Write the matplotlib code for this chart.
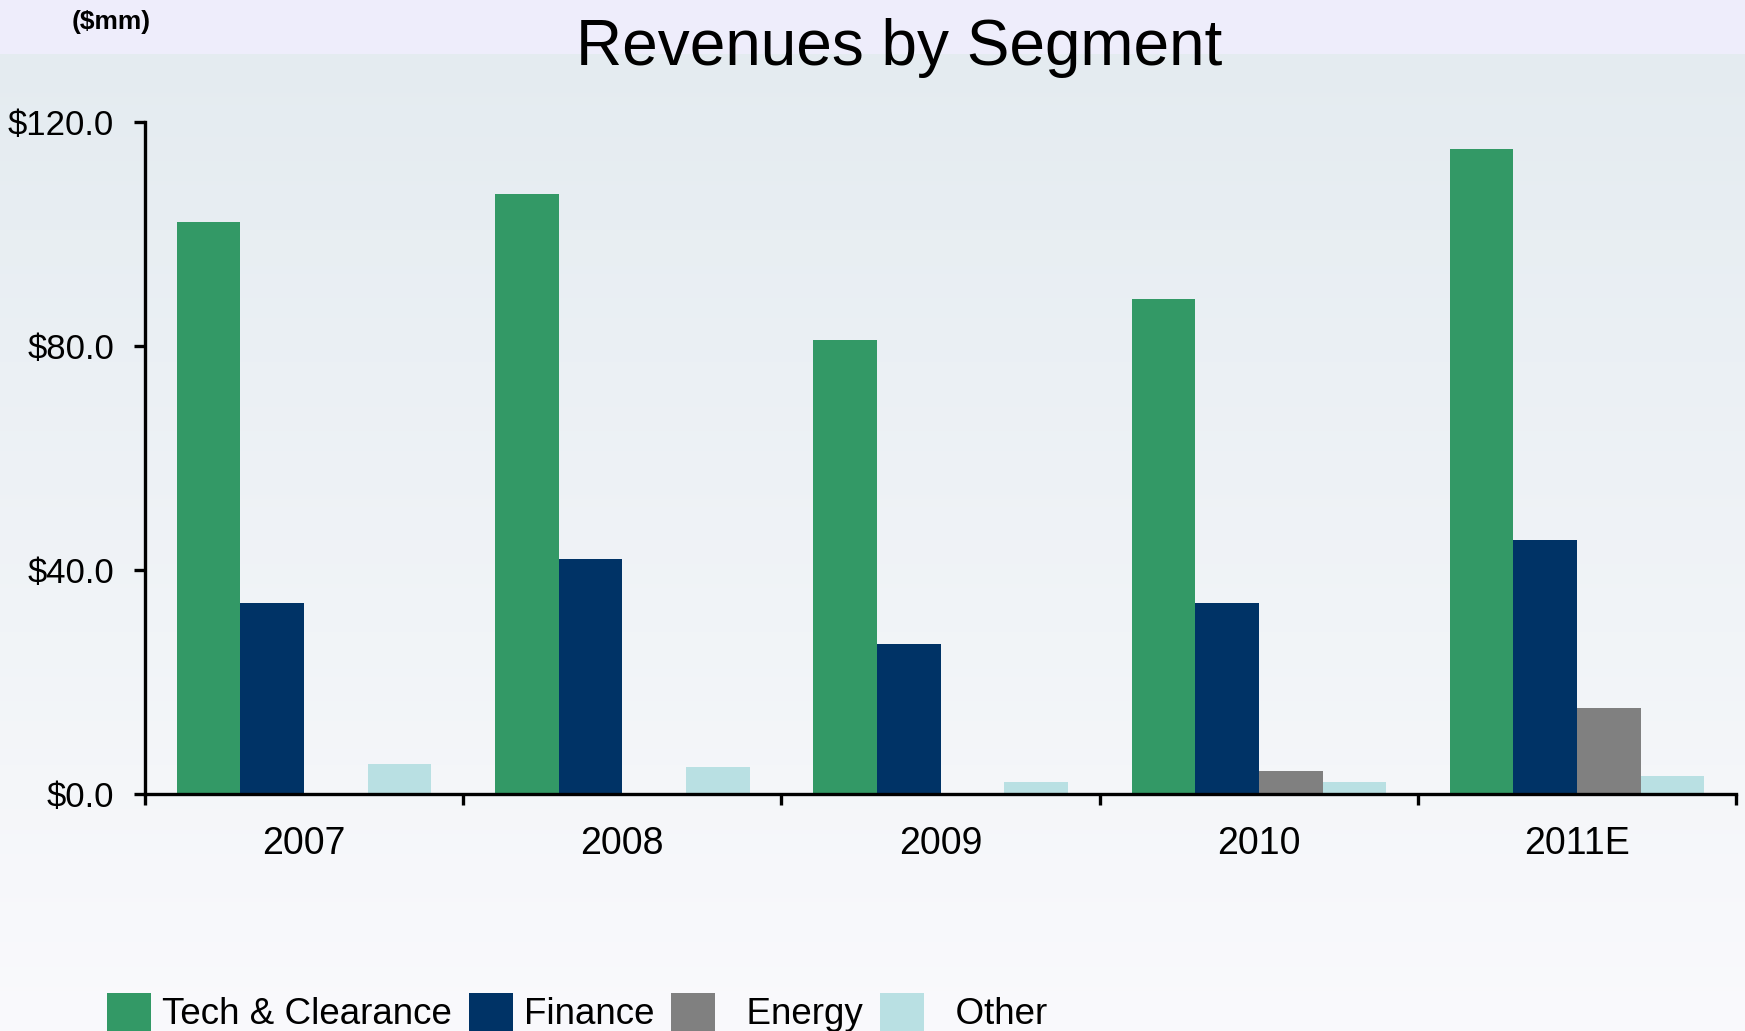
import numpy as np
import matplotlib
matplotlib.use("Agg")
import matplotlib.pyplot as plt
from matplotlib.patches import Rectangle

plt.rcParams['font.family'] = ['Liberation Sans', 'DejaVu Sans']

years = ['2007', '2008', '2009', '2010', '2011E']
segments = ['Tech & Clearance', 'Finance', 'Energy', 'Other']
tech = [102.0, 107.0, 81.0, 88.3, 115.2]
finance = [34.0, 42.0, 26.8, 34.0, 45.4]
energy = [0.0, 0.0, 0.0, 4.0, 15.3]
other = [5.4, 4.8, 2.2, 2.2, 3.2]
colors = ['#339966', '#003366', '#808080', '#b9e0e3']
yticks = [0, 40, 80, 120]

fig = plt.figure(figsize=(17.45, 10.31), dpi=100)

# background: soft gradient + lavender header band
bg = fig.add_axes([0, 0, 1, 1], zorder=-10)
grad = np.linspace(0, 1, 256).reshape(-1, 1)
top = np.array([0.89, 0.92, 0.94])
bot = np.array([0.98, 0.98, 0.99])
img = top + (bot - top) * grad[:, :, None]
bg.imshow(img, aspect='auto', extent=[0, 1, 0, 1], origin='upper')
bg.add_patch(Rectangle((0, 0.948), 1, 0.052, color='#eeedfb', lw=0))
bg.set_xlim(0, 1)
bg.set_ylim(0, 1)
bg.axis('off')

ax = fig.add_axes([0.083, 0.23, 0.912, 0.652])
ax.patch.set_alpha(0)

x = np.arange(len(years))
w = 0.2
series = [tech, finance, energy, other]
for i, (vals, name) in enumerate(zip(series, segments)):
    lbl = name if i < 2 else '  ' + name
    ax.bar(x + (i - 1.5) * w, vals, w, color=colors[i], label=lbl, zorder=2)

ax.set_xlim(-0.5, len(years) - 0.5)
ax.set_ylim(0, 120)
for s in ['top', 'right']:
    ax.spines[s].set_visible(False)
for s in ['left', 'bottom']:
    ax.spines[s].set_linewidth(2.4)
    ax.spines[s].set_color('black')

ax.set_yticks(yticks)
ax.set_yticklabels(['${:.1f}'.format(v) for v in yticks])
ax.tick_params(axis='y', direction='out', length=8, width=2.4, pad=14, labelsize=25)

ax.set_xticks(np.arange(-0.5, len(years)))
ax.set_xticklabels([])
ax.tick_params(axis='x', which='major', direction='out', length=8, width=2.4)
ax.set_xticks(x, minor=True)
ax.set_xticklabels(years, minor=True)
ax.tick_params(axis='x', which='minor', length=0, pad=23, labelsize=27)

fig.text(0.515, 0.953, 'Revenues by Segment', ha='center', va='center', fontsize=46)
fig.text(0.041, 0.979, '($mm)', ha='left', va='center', fontsize=19, fontweight='bold')

fig.legend(loc='center left', bbox_to_anchor=(0.053, 0.018), ncol=4, frameon=False,
           fontsize=26.5, handlelength=1.2, handleheight=1.2, handletextpad=0.3,
           columnspacing=0.45, borderaxespad=0)

fig.savefig('out.png', dpi=100)
